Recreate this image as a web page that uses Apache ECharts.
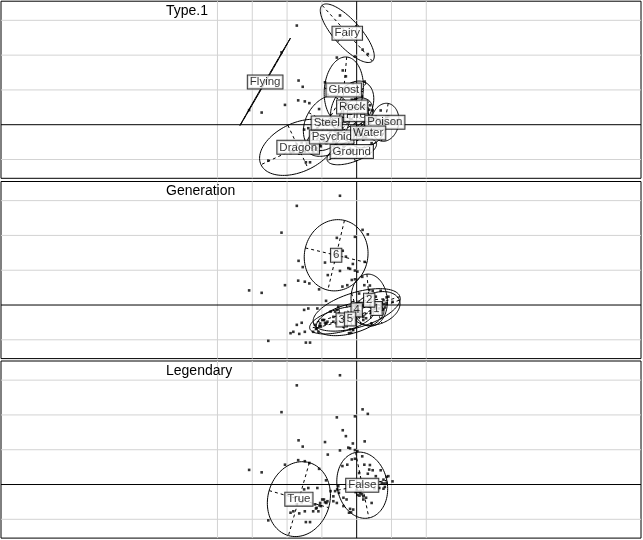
<!DOCTYPE html>
<html><head><meta charset="utf-8">
<script src="https://cdn.jsdelivr.net/npm/echarts@6/dist/echarts.min.js"></script>
<style>html,body{margin:0;padding:0;background:#fff}#c{width:643px;height:540px}</style>
</head><body><div id="c"></div>
<script>
// point coordinates (same individuals in every panel)
const pointsX = [-0.48,-1.72,-2.16,0.17,0.32,-0.05,-0.57,-0.40,-0.31,-1.67,-0.91,0.23,-1.55,-0.11,-0.24,-0.19,-0.48,-0.05,-0.83,-3.09,-2.73,-1.68,-1.49,-2.06,-1.36,-1.08,-0.41,-0.27,-0.14,0.16,0.22,0.38,0.36,0.07,0.46,0.32,0.69,0.55,0.91,0.86,0.77,1.03,0.72,0.79,0.86,0.81,0.65,0.77,0.51,-0.05,0.02,-0.88,-0.53,-0.62,-0.75,-0.56,-0.51,-0.67,-0.38,-0.29,-0.67,-0.57,-0.38,-0.22,-0.16,-0.19,-0.10,0.00,0.05,0.10,0.02,0.12,0.08,-0.03,0.15,0.19,0.27,0.19,0.43,-0.94,-0.87,-0.84,-1.51,-1.39,-1.13,-1.58,-1.72,-1.82,-1.15,-1.25,-1.10,-1.49,-1.65,-1.90,-2.54,-1.46,-1.34,-1.05,-0.99,-1.20,-1.07,-1.03,-1.17,-0.91];
const pointsY = [3.14,2.85,2.08,2.16,2.03,1.96,1.93,1.56,1.39,1.27,1.22,1.24,1.09,1.18,1.06,1.04,0.98,0.99,0.86,0.42,0.35,0.70,0.67,0.57,0.62,0.45,0.53,0.57,0.72,0.81,0.57,0.56,0.43,0.33,0.41,0.31,0.41,0.24,0.24,0.22,0.14,0.09,0.05,0.03,0.05,-0.07,-0.10,-0.12,-0.11,0.74,0.96,0.12,-0.05,-0.19,-0.19,-0.14,-0.24,-0.34,-0.38,-0.43,-0.48,-0.53,-0.62,-0.81,-0.80,-0.70,-0.72,-0.15,-0.20,-0.25,-0.30,-0.18,-0.32,-0.22,-0.28,-0.34,-0.38,-0.43,-0.53,-0.43,-0.53,-0.48,-0.14,-0.10,-0.10,-0.51,-0.57,-0.77,-0.67,-0.77,-0.77,-0.77,-0.83,-0.81,-1.03,-1.08,-1.08,-0.53,-0.43,-0.57,-0.60,-0.62,-0.69,-0.51];

// Type.1 groups: label/centre, ellipse semi-axes and angle (deg)
const typeNames = ['Dragon','Fairy','Fire','Flying','Ghost','Ground','Poison','Psychic','Rock','Steel','Water'];
const typeCx    = [-1.68,-0.27,-0.02,-2.63,-0.37,-0.14,0.81,-0.72,-0.13,-0.86,0.33];
const typeCy    = [-0.65,2.63,0.29,1.23,1.00,-0.77,0.07,-0.35,0.51,0.05,-0.24];
const typeA     = [1.18,1.08,0.55,1.45,0.95,0.75,0.55,0.80,0.80,0.85,0.55];
const typeB     = [0.70,0.38,0.40,0.01,0.56,0.30,0.40,0.45,0.55,0.60,0.35];
const typeAng   = [25,-48,45,60,85,20,80,30,60,60,35];

// Generation groups
const genNames = ['1','2','3','4','5','6'];
const genCx    = [0.57,0.36,-0.43,0.00,-0.19,-0.59];
const genCy    = [-0.10,0.14,-0.43,-0.14,-0.40,1.43];
const genA     = [0.70,0.75,0.95,1.30,1.00,1.03];
const genB     = [0.45,0.52,0.33,0.50,0.42,0.91];
const genAng   = [20,95,15,17,15,76.6];

// Legendary groups
const legNames = ['False','True'];
const legCx    = [0.16,-1.66];
const legCy    = [-0.02,-0.42];
const legA     = [0.96,1.09];
const legB     = [0.72,0.89];
const legAng   = [101.5,74];

// grid lines and panel titles
const gridXs = [-4,-3,-2,-1,1,2];
const gridYs = [-1,1,2,3];
const panelTitles = ['Type.1','Generation','Legendary'];

const X_MIN = -10.22, X_MAX = 8.17, Y_MIN = -1.54, Y_MAX = 3.55;
const panelTops = [1.2, 181.5, 361];
const PANEL_H = 177.1;

function vLine(params, api){
  const cs = params.coordSys;
  const x = api.coord([api.value(0), 0])[0];
  return {type:'line', shape:{x1:x, y1:cs.y, x2:x, y2:cs.y+cs.height}, style:{stroke:api.value(1)?'#000':'#d3d3d3', lineWidth:1}};
}
function hLine(params, api){
  const cs = params.coordSys;
  const y = api.coord([0, api.value(0)])[1];
  return {type:'line', shape:{x1:cs.x, y1:y, x2:cs.x+cs.width, y2:y}, style:{stroke:api.value(1)?'#000':'#d3d3d3', lineWidth:1}};
}
function ellipse(params, api){
  const cx=api.value(0), cy=api.value(1), a=api.value(2), b=api.value(3), ang=api.value(4)*Math.PI/180;
  const ca=Math.cos(ang), sa=Math.sin(ang);
  const pts=[];
  for(let i=0;i<100;i++){
    const t=2*Math.PI*i/100, ex=a*Math.cos(t), ey=b*Math.sin(t);
    pts.push(api.coord([cx+ex*ca-ey*sa, cy+ex*sa+ey*ca]));
  }
  const p1=api.coord([cx+a*ca, cy+a*sa]), p2=api.coord([cx-a*ca, cy-a*sa]);
  const q1=api.coord([cx-b*sa, cy+b*ca]), q2=api.coord([cx+b*sa, cy-b*ca]);
  const dash={stroke:'#000', lineWidth:1, lineDash:[3,3], fill:null};
  return {type:'group', children:[
    {type:'polygon', shape:{points:pts}, style:{fill:null, stroke:'#000', lineWidth:1}},
    {type:'line', shape:{x1:p1[0],y1:p1[1],x2:p2[0],y2:p2[1]}, style:dash},
    {type:'line', shape:{x1:q1[0],y1:q1[1],x2:q2[0],y2:q2[1]}, style:dash}
  ]};
}

const groups = [
  {names:typeNames, cx:typeCx, cy:typeCy, a:typeA, b:typeB, ang:typeAng},
  {names:genNames, cx:genCx, cy:genCy, a:genA, b:genB, ang:genAng},
  {names:legNames, cx:legCx, cy:legCy, a:legA, b:legB, ang:legAng}
];

const grids=[], xAxes=[], yAxes=[], series=[], graphics=[];
groups.forEach((g, k) => {
  grids.push({left:1, width:640, top:panelTops[k], height:PANEL_H, show:true, borderColor:'#000', borderWidth:1, backgroundColor:'#fff'});
  xAxes.push({type:'value', gridIndex:k, min:X_MIN, max:X_MAX, show:false});
  yAxes.push({type:'value', gridIndex:k, min:Y_MIN, max:Y_MAX, show:false});
  series.push({type:'custom', xAxisIndex:k, yAxisIndex:k, z:1, silent:true, renderItem:vLine,
    data: gridXs.map(v=>[v,0]).concat([[0,1]]), encode:{x:0}});
  series.push({type:'custom', xAxisIndex:k, yAxisIndex:k, z:1, silent:true, renderItem:hLine,
    data: gridYs.map(v=>[v,0]).concat([[0,1]]), encode:{y:0}});
  series.push({type:'custom', xAxisIndex:k, yAxisIndex:k, z:3, silent:true, clip:true, renderItem:ellipse,
    data: g.names.map((n,i)=>[g.cx[i], g.cy[i], g.a[i], g.b[i], g.ang[i]]), encode:{x:0,y:1}});
  series.push({type:'scatter', xAxisIndex:k, yAxisIndex:k, z:4, silent:true, symbol:'rect', symbolSize:2.6,
    itemStyle:{color:'#000'}, data: pointsX.map((x,i)=>[x, pointsY[i]])});
  series.push({type:'scatter', xAxisIndex:k, yAxisIndex:k, z:6, silent:true, symbolSize:0,
    data: g.names.map((n,i)=>({name:n, value:[g.cx[i], g.cy[i]]})),
    label:{show:true, position:'inside', formatter:'{b}', color:'#000', fontSize:11.5, fontFamily:'Liberation Sans',
      backgroundColor:'#fff', borderColor:'#000', borderWidth:1, padding:[1,2,0,2], lineHeight:12}});
  graphics.push({type:'text', left:166, top:panelTops[k]+3, z:10,
    style:{text:panelTitles[k], fill:'#000', font:'14px "Liberation Sans"'}});
});

const chart = echarts.init(document.getElementById('c'), null, {renderer:'canvas'});
chart.setOption({animation:false, backgroundColor:'#fff', grid:grids, xAxis:xAxes, yAxis:yAxes, series:series, graphic:graphics});
</script></body></html>
